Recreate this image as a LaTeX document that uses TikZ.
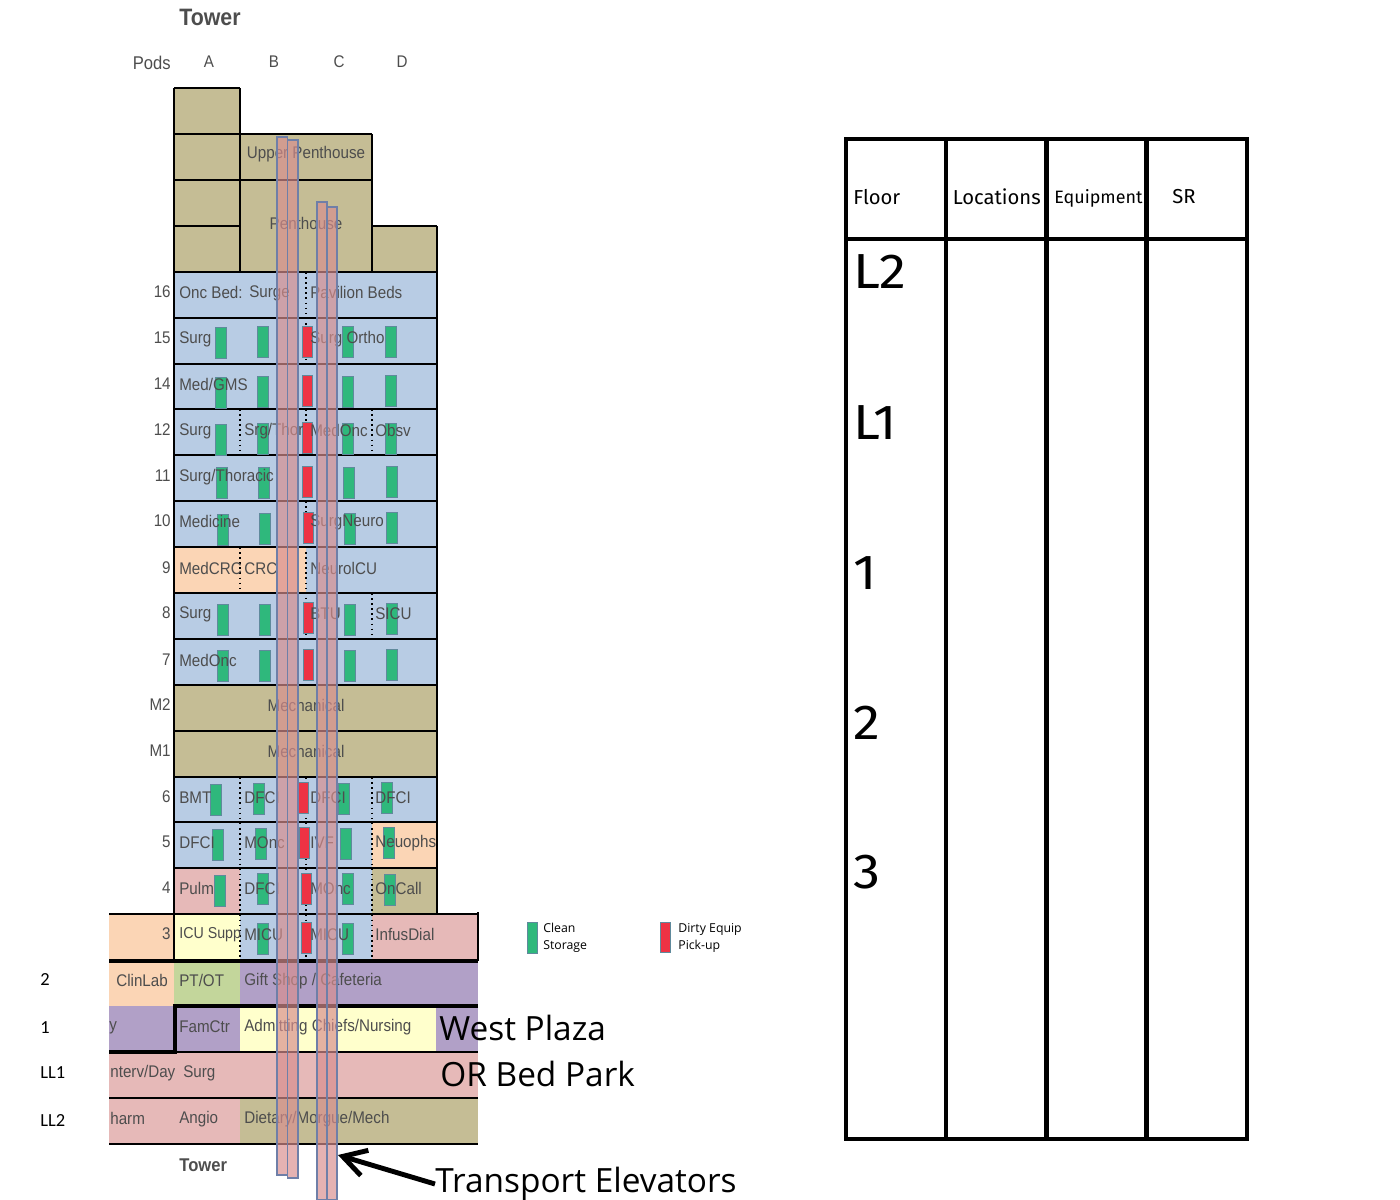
\documentclass[tikz,border=0pt]{standalone}
\usepackage{fontspec}
\usetikzlibrary{arrows.meta}
\newfontfamily\towerfont[FakeStretch=0.9]{Liberation Sans}
\newfontfamily\tablefont{Fira Sans}
\newfontfamily\bigtablefont[FakeStretch=1.1]{Fira Sans}
\newfontfamily\notefont{Open Sans}
\newfontfamily\sidefont{Carlito}
\definecolor{tanfill}{HTML}{C5BD95}
\definecolor{bluefill}{HTML}{B8CCE4}
\definecolor{peachfill}{HTML}{FBD5B5}
\definecolor{pinkfill}{HTML}{E6B9B8}
\definecolor{yellowfill}{HTML}{FFFFCC}
\definecolor{purplefill}{HTML}{B1A0C7}
\definecolor{greenfill}{HTML}{C3D69B}
\definecolor{cleangreen}{HTML}{2FB87C}
\definecolor{dirtyred}{HTML}{EE3344}
\definecolor{edgeblue}{HTML}{5F8A9C}
\definecolor{liftfill}{HTML}{D88E8E}
\definecolor{liftedge}{HTML}{6F7FA8}
\definecolor{labelgrey}{HTML}{4D4D4D}
\tikzset{
  px/.style={x=0.02cm,y=-0.02cm},
  cell/.style={anchor=west,inner sep=0pt,yshift=-0.5pt,text=labelgrey,font=\towerfont\fontsize{9.6}{11}\selectfont},
  floorlab/.style={anchor=east,inner sep=0pt,text=labelgrey,font=\towerfont\fontsize{9.6}{11}\selectfont},
  midcell/.style={anchor=center,inner sep=0pt,text=labelgrey,font=\towerfont\fontsize{9.6}{11}\selectfont},
  sidelab/.style={anchor=west,inner sep=0pt,font=\sidefont\fontsize{10.5}{12}\selectfont},
  head/.style={anchor=west,inner sep=0pt,font=\tablefont\fontsize{11.5}{13}\selectfont},
  bigfloor/.style={anchor=west,inner sep=0pt,font=\bigtablefont\fontsize{28}{30}\selectfont},
  plazanote/.style={anchor=west,inner sep=0pt,font=\notefont\fontsize{19}{22}\selectfont},
  keytext/.style={anchor=west,inner sep=0pt,align=left,font=\notefont\fontsize{7}{9.6}\selectfont},
  rowline/.style={line width=1.1pt,draw=black},
  heavyline/.style={line width=2.6pt,draw=black},
  podline/.style={line width=0.9pt,dotted,draw=black,line cap=butt},
  clean/.style={fill=cleangreen,draw=edgeblue,line width=0.5pt},
  dirty/.style={fill=dirtyred,draw=edgeblue,line width=0.5pt},
  lift/.style={fill=liftfill,fill opacity=0.68,draw=liftedge,line width=0.6pt},
  gridline/.style={line width=2.8pt,draw=black},
}
\begin{document}
\begin{tikzpicture}[px]
  \useasboundingbox (0,0) rectangle (1400,1200);

  % upper blocks
  \fill[tanfill] (174,88) rectangle (240,272);
  \fill[tanfill] (240,134) rectangle (372,272);
  \fill[tanfill] (372,226) rectangle (437,272);

  % floor fills: top/bottom/left/right/colour
  \foreach \t/\b/\l/\r/\c in {
      272/318/174/437/bluefill, 318/364/174/437/bluefill, 364/409/174/437/bluefill,
      409/455/174/437/bluefill, 455/501/174/437/bluefill, 501/547/174/437/bluefill,
      547/593/174/306/peachfill, 547/593/306/437/bluefill,
      593/639/174/437/bluefill, 639/685/174/437/bluefill,
      685/731/174/437/tanfill, 731/777/174/437/tanfill,
      777/822/174/437/bluefill,
      822/868/174/372/bluefill, 822/868/372/437/peachfill,
      868/914/174/240/pinkfill, 868/914/240/372/bluefill, 868/914/372/437/tanfill,
      914/961/109/174/peachfill, 914/961/174/240/yellowfill, 914/961/240/372/bluefill, 914/961/372/478/pinkfill,
      961/1006/109/174/peachfill, 961/1006/174/240/greenfill, 961/1006/240/478/purplefill,
      1006/1052/109/240/purplefill, 1006/1052/240/436/yellowfill, 1006/1052/436/478/purplefill,
      1052/1098/109/478/pinkfill,
      1098/1144/109/240/pinkfill, 1098/1144/240/478/tanfill}
    \fill[\c] (\l,\t) rectangle (\r,\b);

  % floor lines
  \foreach \y in {272,318,364,409,455,501,547,593,639,685,731,777,822,868}
    \draw[rowline] (174,\y) -- (437,\y);
  \draw[rowline] (174,88) -- (240,88);
  \draw[rowline] (174,134) -- (372,134);
  \draw[rowline] (174,180) -- (372,180);
  \draw[rowline] (174,226) -- (240,226);
  \draw[rowline] (372,226) -- (437,226);
  \draw[rowline] (174,88) -- (174,961);
  \draw[rowline] (240,88) -- (240,272);
  \draw[rowline] (372,134) -- (372,272);
  \draw[rowline] (437,226) -- (437,914);
  \draw[rowline] (109,914) -- (478,914);
  \draw[rowline] (478,912) -- (478,961);
  \draw[rowline] (109,1098) -- (478,1098);
  \draw[rowline] (109,1144) -- (478,1144);
  \draw[rowline] (175,1052) -- (478,1052);
  \draw[heavyline] (109,961) -- (478,961);
  \draw[heavyline] (478,1006) -- (175,1006) -- (175,1052) -- (109,1052);

  % pod dividers
  \foreach \t/\b in {409/455,547/593,777/961}
    \draw[podline] (240,\t) -- (240,\b);
  \foreach \t/\b in {272/364,409/455,501/639,777/961}
    \draw[podline] (306,\t) -- (306,\b);
  \foreach \t/\b in {409/455,593/639,777/961}
    \draw[podline] (372,\t) -- (372,\b);

  % clean storage
  \foreach \x/\y in {
      215/327,257/326,342/326,385/326,
      215/377,257/376,342/376,385/375,
      215/424,257/423,342/423,385/423,
      216/467,258/467,343/467,386/466,
      217/514,259/513,344/513,386/512,
      217/604,259/604,344/604,386/603,
      217/650,259/650,344/650,386/649,
      210/784,253/783,338/783,381/782,
      212/829,255/828,340/828,383/827,
      214/875,257/873,342/873,384/874,
      257/923,342/923}
    \draw[clean] (\x,\y) rectangle ++(11,31);

  % dirty pick-up
  \foreach \x/\y in {
      302/326,302/375,302/422,302/466,303/512,303/602,303/649,
      298/782,299/827,301/873,301/922}
    \draw[dirty] (\x,\y) rectangle ++(10,31);

  % headings
  \node[anchor=west,inner sep=0pt,text=labelgrey,font=\towerfont\bfseries\fontsize{13.5}{15}\selectfont] (towertop) at (179,17) {Tower};
  \node[anchor=west,inner sep=0pt,text=labelgrey,font=\towerfont\bfseries\fontsize{10.5}{12}\selectfont] (towerbase) at (179,1165) {Tower};
  \node[floorlab,font=\towerfont\fontsize{10.5}{13}\selectfont] (pods) at (171,63) {Pods};
  \foreach \p/\x in {A/209,B/274,C/339,D/402}
    \node[midcell] (pod\p) at (\x,62) {\p};

  % floor numbers
  \foreach \n/\y in {16/292,15/338,14/384,12/430,11/476,10/521,9/568,8/613,7/660,M2/705,M1/751,6/797,5/842,4/888,3/934}
    \node[floorlab] (floor\n) at (171,\y) {\n};
  \node[sidelab] (side2) at (40,980) {2};
  \node[sidelab] (side1) at (40,1028) {1};
  \node[sidelab] (sideLLa) at (40,1073) {LL1};
  \node[sidelab] (sideLLb) at (40,1121) {LL2};

  % department names
  \node[midcell] (upperph) at (306,154) {Upper Penthouse};
  \node[midcell] (ph) at (306,223) {Penthouse};
  \foreach \i/\x/\y/\t in {
      a/179/292/{Onc Bed:}, b/249/292/{Surge}, c/310/292/{Pavilion Beds},
      d/179/338/{Surg}, e/310/338/{Surg Ortho},
      f/179/384/{Med/GMS},
      g/179/430/{Surg}, h/244/430/{Srg/Thor}, i/310/430/{MedOnc}, j/375/430/{Obsv},
      k/179/476/{Surg/Thoracic},
      l/179/521/{Medicine}, m/310/521/{SurgNeuro},
      n/179/568/{MedCRC}, o/244/568/{CRC}, p/310/568/{NeurolCU},
      q/179/613/{Surg}, r/310/613/{BTU}, s/375/613/{SICU},
      t/179/660/{MedOnc},
      u/179/797/{BMT}, v/244/797/{DFCI}, w/310/797/{DFCI}, x/375/797/{DFCI},
      y/179/842/{DFCI}, z/244/842/{MOnc}, A/310/842/{IVF}, B/375/842/{Neuophs},
      C/179/888/{Pulm}, D/244/888/{DFCI}, E/310/888/{MOnc}, F/375/888/{OnCall},
      H/244/934/{MICU}, I/310/934/{MICU}, J/375/934/{InfusDial},
      K/116/980/{ClinLab}, L/179/980/{PT/OT}, M/244/980/{Gift Shop / Cafeteria},
      N/109/1027/{y}, O/179/1026/{FamCtr}, P/244/1026/{Admitting Chiefs/Nursing},
      Q/110/1072/{nterv/Day}, R/183/1072/{Surg},
      S/110/1118/{harm}, T/179/1118/{Angio}, U/244/1118/{Dietary/Morgue/Mech}}
    \node[cell] (dept\i) at (\x,\y) {\t};
  \node[cell,font=\towerfont\fontsize{9}{11}\selectfont] (deptG) at (179,934) {ICU Supp};
  \node[midcell] (mecha) at (306,705) {Mechanical};
  \node[midcell] (mechb) at (306,751) {Mechanical};

  % elevators
  \draw[lift] (277,137) rectangle (287.5,1175);
  \draw[lift] (287.5,140) rectangle (298,1178);
  \draw[lift] (317,202) rectangle (327,1200);
  \draw[lift] (327,207) rectangle (337,1200);

  % notes
  \node[plazanote] (plaza) at (439,1028) {West Plaza};
  \node[plazanote] (bedpark) at (440,1074) {OR Bed Park};
  \node[plazanote] (transport) at (435,1184) {Transport Elevators};
  \coordinate (lifttip) at (338,1155);
  \draw[-{Straight Barb[length=13pt,width=15pt]},line width=2.8pt] (transport.west) -- (lifttip);

  % key
  \draw[clean] (527,922) rectangle (537,953);
  \node[keytext] (cleankey) at (543,938) {Clean\\Storage};
  \draw[dirty] (660,922) rectangle (670,952);
  \node[keytext] (dirtykey) at (678,938) {Dirty Equip\\Pick-up};

  % table
  \draw[gridline] (846,139) rectangle (1247,1139);
  \foreach \x in {946,1046.5,1146.5}
    \draw[gridline] (\x,139) -- (\x,1139);
  \draw[gridline] (846,239) -- (1247,239);
  \node[head] (thfloor) at (853,197) {Floor};
  \node[head] (thloc) at (952.5,197) {Locations};
  \node[head,font=\tablefont\fontsize{10.2}{12}\selectfont] (thequip) at (1054,198) {Equipment};
  \node[head] (thsr) at (1172,197) {SR};
  \foreach \i/\y/\t in {a/272/L2,b/423/L1,c/573/1,d/723/2,e/872/3}
    \node[bigfloor] (row\i) at (853,\y) {\t};
\end{tikzpicture}
\end{document}
